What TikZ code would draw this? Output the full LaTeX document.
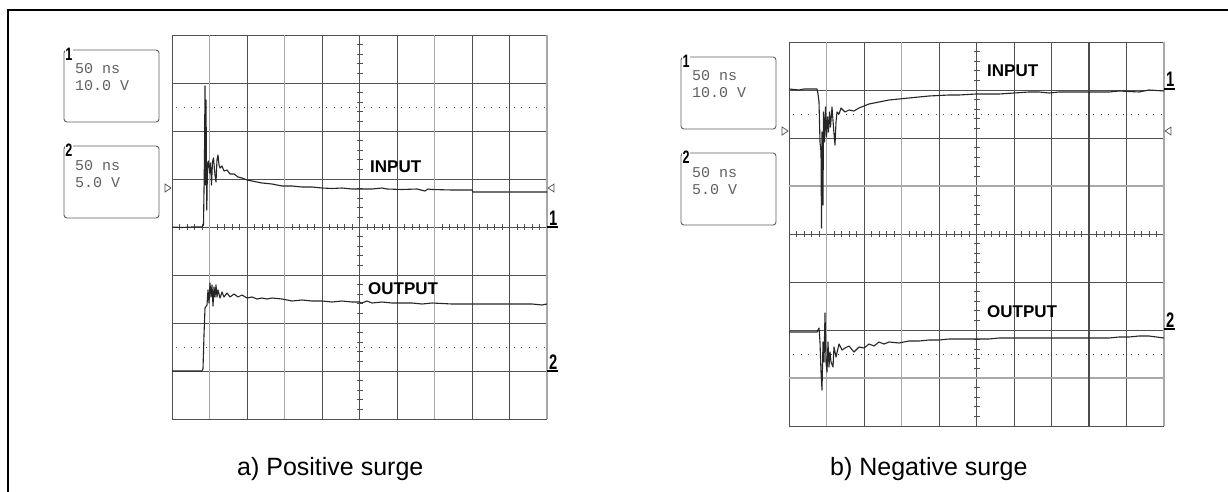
\documentclass[tikz,border=0pt]{standalone}
\usepackage{graphicx}
\usepackage{fontspec}
\setmainfont{Liberation Sans}
\newfontfamily\readoutfont{Liberation Mono}
\definecolor{gridgrey}{HTML}{505050}
\definecolor{fadegrey}{HTML}{A8A8A8}
\definecolor{readgrey}{HTML}{606060}
\tikzset{
  gridline/.style={draw=gridgrey, line width=0.9pt},
  fadeline/.style={draw=fadegrey, line width=1.4pt},
  darkline/.style={draw=black!70, line width=1.1pt},
  dotline/.style={draw=gridgrey, line width=0.9pt, dash pattern=on 0.9pt off 6.6pt},
  tickmark/.style={draw=gridgrey, line width=0.8pt},
  trace/.style={draw=black!85, line width=1.1pt, line join=round},
  readbox/.style={draw=readgrey, line width=0.9pt, rounded corners=3pt},
  readtext/.style={text=readgrey, font=\readoutfont\fontsize{15}{15}\selectfont, anchor=base west, inner sep=0pt},
  chnum/.style={font=\bfseries\fontsize{18}{18}\selectfont, fill=white, inner sep=0.6pt},
  tracelabel/.style={font=\bfseries\fontsize{17}{17}\selectfont, anchor=base west, inner sep=0pt},
  chmark/.style={font=\bfseries\fontsize{21}{21}\selectfont, anchor=base west, inner sep=0pt},
  caption/.style={font=\fontsize{25}{25}\selectfont, anchor=base west, inner sep=0pt},
  trimark/.style={draw=gridgrey, line width=0.7pt},
}
\newcommand{\narrow}[1]{\scalebox{0.7}[1]{#1}}
% one scope screen: 10 x 8 divisions of 37.5 x 48
\newcommand{\screengrid}{%
  \foreach \i in {0,...,10} \draw[gridline] (\i*37.5,0) -- (\i*37.5,384);
  \foreach \j in {0,...,8} \draw[gridline] (0,\j*48) -- (375,\j*48);
  \draw[dotline] (4,72) -- (372,72);
  \draw[dotline] (4,312) -- (372,312);
  \foreach \i in {1,...,49} \draw[tickmark] (\i*7.5,189) -- (\i*7.5,195);
  \foreach \j in {1,...,39} \draw[tickmark] (184.5,\j*9.6) -- (190.5,\j*9.6);
}
% read-out boxes left of the screen
\newcommand{\readouts}[2]{%
  \draw[readbox] (-108,15) rectangle (-13,87);
  \node[chnum] (ch1) at (-103,19) {\narrow{1}};
  \node[readtext] (ch1t) at (-97,39) {50 ns};
  \node[readtext] (ch1v) at (-97,56) {#1};
  \draw[readbox] (-108,111) rectangle (-13,183);
  \node[chnum] (ch2) at (-103,115) {\narrow{2}};
  \node[readtext] (ch2t) at (-97,135) {50 ns};
  \node[readtext] (ch2v) at (-97,152) {#2};
}
\begin{document}
\begin{tikzpicture}[x=1pt, y=-1pt]
\useasboundingbox (0,0) rectangle (1228,492);
\fill[white] (0,0) rectangle (1228,492);
\draw[line width=2pt] (8,492) -- (8,10) -- (1228,10);

% a) positive surge
\begin{scope}[shift={(172,35)}]
\screengrid
\foreach \i in {1,3,7,10} \draw[fadeline] (\i*37.5,0) -- (\i*37.5,384);
\draw[darkline] (337.5,0) -- (337.5,384);
\readouts{10.0 V}{5.0 V}
\draw[trimark] (-7,149) -- (-1,153) -- (-7,157) -- cycle;
\draw[trimark] (382,149) -- (376,153) -- (382,157) -- cycle;
\node[chmark] (m1) at (377,190) {\narrow{1}};
\draw[line width=1.5pt] (375,192) -- (386,192);
\node[chmark] (m2) at (377,334) {\narrow{2}};
\draw[line width=1.5pt] (375,336) -- (386,336);
\node[tracelabel] (inA) at (198,137) {INPUT};
\node[tracelabel] (outA) at (196,259) {OUTPUT};
\draw[trace] plot coordinates {(0,192) (10,192.5) (20,192) (30,192) (31.5,190) (32.5,120)
  (33,51) (33.5,150) (34,65) (34.8,175) (35.5,130) (36.5,126) (37.5,138) (38.5,128)
  (39.5,150) (40.5,127) (41.5,123) (43,140) (44,147) (45,125) (46,120) (47,130)
  (48,133) (50,131) (52,136) (55,135) (58,139) (62,139) (66,142) (70,143) (75,145)
  (80,146) (90,148) (100,149) (110,151) (120,151) (130,152) (140,152) (150,153)
  (160,153.5) (170,153) (180,154) (187,154) (200,154) (210,153) (215,154) (230,154.5)
  (245,154) (253,156) (256,154) (260,154.5) (280,155) (300,155) (301,157) (320,157)
  (350,157) (375,157)};
\draw[trace] plot coordinates {(0,336) (30,336) (31,334) (32,300) (33,273) (35,270)
  (36,255) (37,268) (38,248) (39,262) (40,250) (41,271) (42,252) (43,262) (44,250)
  (45,262) (46,255) (48,263) (50,257) (52,262) (55,258) (58,262) (62,259) (66,262)
  (70,260) (75,263) (80,262) (85,264) (90,263) (95,264) (100,263) (110,264) (120,266)
  (130,265) (140,266) (150,266) (160,267) (170,266) (180,267) (187,267) (190,268)
  (195,266) (200,268) (210,267) (220,268) (240,268) (250,269) (260,268) (280,269)
  (300,269) (320,269) (340,269) (360,269) (370,270) (375,269)};
\end{scope}

% b) negative surge
\begin{scope}[shift={(789,42)}]
\screengrid
\foreach \i in {1,3,10} \draw[fadeline] (\i*37.5,0) -- (\i*37.5,384);
\foreach \j in {3,7} \draw[fadeline] (0,\j*48) -- (375,\j*48);
\draw[darkline] (300,0) -- (300,384);
\readouts{10.0 V}{5.0 V}
\draw[trimark] (-7,85) -- (-1,89) -- (-7,93) -- cycle;
\draw[trimark] (382,85) -- (376,89) -- (382,93) -- cycle;
\node[chmark] (m1) at (377,45) {\narrow{1}};
\draw[line width=1.5pt] (375,47) -- (386,47);
\node[chmark] (m2) at (377,285) {\narrow{2}};
\draw[line width=1.5pt] (375,287) -- (386,287);
\node[tracelabel] (inB) at (198,35) {INPUT};
\node[tracelabel] (outB) at (198,275) {OUTPUT};
\draw[trace] plot coordinates {(0,47) (10,48) (15,47) (25,47) (28,47) (29,52) (30,60)
  (31,100) (32,110) (32.5,186) (33,90) (34,163) (34.5,70) (35.5,100) (36.5,65)
  (37.5,95) (38.5,75) (39.5,90) (40.5,70) (41.5,85) (43,65) (45,92) (46,103) (47,80)
  (48,70) (50,72) (52,66) (54,68) (56,70) (60,68) (65,69) (70,66) (75,64) (80,62)
  (90,60) (100,58) (110,57) (120,56) (130,55) (140,54) (150,53.5) (160,53) (170,53)
  (187,52) (200,52) (210,52) (225,51) (240,50) (250,50) (260,51) (270,50) (290,50)
  (310,50) (320,50) (330,49) (350,50) (360,48) (375,49)};
\draw[trace] plot coordinates {(0,290) (20,290) (28,290) (30,286) (31,300) (32,330)
  (33,348) (34,300) (35,320) (36,271) (37,320) (38,330) (39,300) (40,325) (41,310)
  (42,320) (44,325) (45,305) (47,315) (50,302) (53,308) (56,306) (60,304) (65,310)
  (70,305) (75,306) (80,302) (85,304) (90,300) (95,302) (100,300) (110,301) (120,299)
  (130,299) (140,298) (150,298) (160,297) (170,297) (180,297) (187,297) (200,297)
  (210,296) (220,296) (240,296) (260,296) (280,296) (300,296) (320,296) (330,295)
  (340,295) (350,294) (360,294) (375,296)};
\end{scope}

\node[caption] (capA) at (237,475) {a) Positive surge};
\node[caption] (capB) at (830,475) {b) Negative surge};
\end{tikzpicture}
\end{document}
